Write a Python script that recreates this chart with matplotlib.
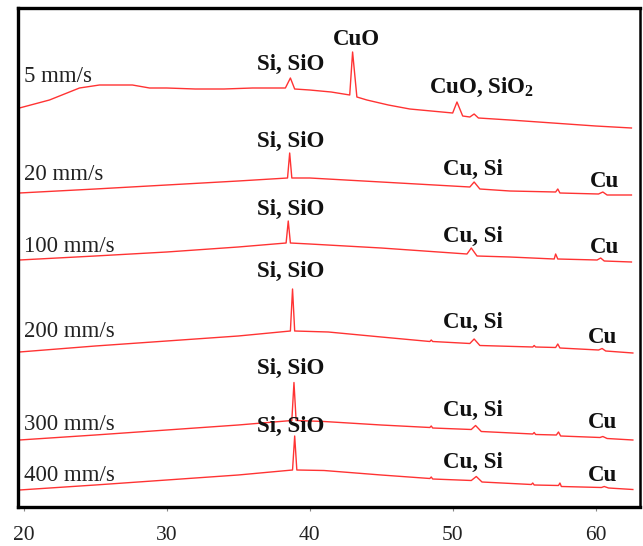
import numpy as np
import matplotlib
matplotlib.use("Agg")
import matplotlib.pyplot as plt

# XRD patterns (2theta, stacked intensity a.u.)
speeds = ["5 mm/s", "20 mm/s", "100 mm/s", "200 mm/s", "300 mm/s", "400 mm/s"]

x_5 = [19.7, 21.8, 23.9, 25.3, 27.6, 28.8, 30, 32, 34, 36, 38.3, 38.65, 38.95, 40, 41.5, 42.8, 43.0, 43.3,
       44, 45.5, 47, 48.5, 50.0, 50.3, 50.7, 51.2, 51.5, 51.8, 54, 57, 60, 62.5]
y_5 = [399, 407, 419, 422, 422, 419, 419, 418, 418, 419, 419, 429, 418, 417, 415, 412, 455, 410,
       407, 402, 398, 396, 394, 405, 391, 390, 393, 389, 387, 384, 381, 379]

x_20 = [19.7, 25, 30, 35, 38.45, 38.6, 38.75, 40, 45, 51.2, 51.5, 51.9, 54, 57.2, 57.35, 57.5,
        60.2, 60.5, 60.8, 62.5]
y_20 = [314, 318, 322, 326, 329, 354, 329, 329, 325, 320, 325, 318, 316, 315, 318, 314,
        313, 315, 312, 312]

x_100 = [19.7, 25, 30, 35, 38.35, 38.5, 38.65, 40, 45, 51.0, 51.3, 51.7, 54, 57.1, 57.2, 57.35,
         60.1, 60.35, 60.6, 62.5]
y_100 = [247, 251, 255, 260, 264, 286, 264, 263, 259, 253, 259, 251, 250, 248, 253, 248,
         247, 249, 246, 245]

x_200 = [19.7, 25, 30, 35, 38.65, 38.8, 38.95, 41.3, 45, 48.4, 48.5, 48.6, 51.2, 51.5, 51.9,
         55.6, 55.7, 55.8, 57.2, 57.35, 57.5, 60.2, 60.45, 60.7, 62.6]
y_200 = [155, 161, 166, 171, 176, 218, 176, 175, 170, 165.5, 167, 165.5, 163.5, 168, 161.5,
         160, 161.5, 160, 159.5, 163, 159, 157, 158.5, 156, 154]

x_300 = [19.7, 25, 30, 35, 38.75, 38.9, 39.05, 41, 45, 48.4, 48.5, 48.6, 51.3, 51.6, 52,
         55.6, 55.7, 55.8, 57.25, 57.4, 57.55, 60.3, 60.5, 60.8, 62.6]
y_300 = [67, 72, 77, 82, 86.5, 124.5, 86.5, 85.5, 82, 79.5, 81, 79, 77.5, 81.5, 75.5,
         73, 74.5, 72.5, 72, 75, 71, 69.5, 70.5, 68.5, 67]

x_400 = [19.7, 25, 30, 35, 38.8, 38.95, 39.1, 41, 45, 48.4, 48.5, 48.6, 51.3, 51.65, 52.05,
         55.5, 55.6, 55.7, 57.4, 57.5, 57.6, 60.4, 60.6, 60.9, 62.6]
y_400 = [17, 22, 27, 32, 37, 71, 37, 36.5, 32, 28.5, 30, 28, 26.5, 30.5, 25,
         22.5, 24, 22, 21.5, 24, 20.5, 19.5, 20.5, 19, 17.5]

xs = [x_5, x_20, x_100, x_200, x_300, x_400]
ys = [y_5, y_20, y_100, y_200, y_300, y_400]

# speed label baselines
speed_y = [425, 327, 255, 170, 77, 26]

# peak labels: (text, 2theta, baseline)
peak_labels = [
    ("Si, SiO", 38.7, 437), ("CuO", 43.3, 462), ("CuO, SiO$_\\mathbf{2}$", 52.0, 414),
    ("Si, SiO", 38.7, 360), ("Cu, Si", 51.4, 332), ("Cu", 60.6, 320),
    ("Si, SiO", 38.7, 292), ("Cu, Si", 51.4, 265), ("Cu", 60.6, 254),
    ("Si, SiO", 38.7, 230), ("Cu, Si", 51.4, 179), ("Cu", 60.5, 164),
    ("Si, SiO", 38.7, 133), ("Cu, Si", 51.4, 91), ("Cu", 60.5, 79),
    ("Si, SiO", 38.7, 75), ("Cu, Si", 51.4, 39), ("Cu", 60.5, 26),
]

plt.rcParams['font.family'] = ['Liberation Serif', 'DejaVu Serif']
plt.rcParams['mathtext.fontset'] = 'custom'
plt.rcParams['mathtext.rm'] = 'Liberation Serif'
plt.rcParams['mathtext.bf'] = 'Liberation Serif:bold'

fig = plt.figure(figsize=(6.43, 5.46), dpi=100)
ax = fig.add_axes([18 / 643, 1 - 507 / 546, (640 - 18) / 643, (507 - 8) / 546])

for x, y in zip(xs, ys):
    ax.plot(x, y, color='#ff3333', lw=1.0)

for lab, yb in zip(speeds, speed_y):
    ax.text(20.0, yb, lab, fontsize=16.5, ha='left', va='baseline', color='#222222')

for txt, xp, yb in peak_labels:
    ax.text(xp, yb, txt, fontsize=16.5, fontweight='bold', ha='center', va='baseline', color='#111111')

ax.set_xlim(19.6, 63.1)
ax.set_ylim(0, 499)
ax.set_xticks([20, 30, 40, 50, 60])
ax.set_yticks([])
ax.tick_params(axis='x', direction='out', length=3, width=0.8, color='#888888',
               labelsize=15.5, pad=11, labelcolor='#222222')
for side in ['top', 'left', 'bottom']:
    ax.spines[side].set_linewidth(2.4)
ax.spines['right'].set_linewidth(1.8)

fig.savefig("out.png", dpi=100)
